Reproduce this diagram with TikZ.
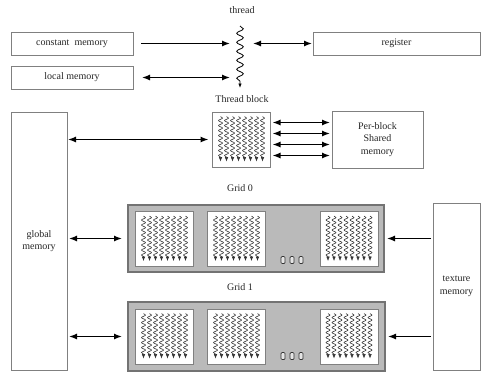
\documentclass[tikz,border=0pt]{standalone}
\usepackage{fontspec}
\setmainfont{Liberation Serif}
\usetikzlibrary{decorations.pathmorphing,arrows.meta}
\begin{document}
\begin{tikzpicture}[x=1pt,y=-1pt,
  font=\fontsize{10}{12.5}\selectfont,
  membox/.style={draw=black!50, line width=0.9pt, fill=white, inner sep=0pt, outer sep=0pt, align=center, text=black!85},
  gridbox/.style={draw=black!55, line width=1.4pt, fill=black!27, inner sep=0pt, outer sep=0pt},
  blkbox/.style={draw=black!50, line width=1pt, fill=white, inner sep=0pt, outer sep=0pt, minimum width=58pt, minimum height=55pt},
  dotbox/.style={draw=black!80, line width=0.7pt, fill=black!10, rounded corners=1pt, inner sep=0pt, minimum width=4pt, minimum height=7pt},
  lbl/.style={text=black!85},
  arr/.style={-{Latex[length=8pt,width=6pt]}, line width=1.3pt},
  darr/.style={{Latex[length=8pt,width=6pt]}-{Latex[length=8pt,width=6pt]}, line width=1.3pt},
  bigwave/.style={decorate, decoration={snake, segment length=9pt, amplitude=3.3pt, post length=5pt}, line width=0.8pt, -{Latex[length=4.5pt,width=3.5pt]}},
  swave/.style={decorate, decoration={snake, segment length=5pt, amplitude=2pt, post length=4pt}, line width=0.6pt, black!80, -{Latex[length=4.5pt,width=3.6pt]}},
  tblock/.pic={
    \node[blkbox] (-box) at (0,0) {};
    \foreach \i in {0,...,7} \draw[swave] (-21+6*\i,-23) -- (-21+6*\i,22);
  }
]
\useasboundingbox[fill=white] (0,0) rectangle (481,375);

% thread
\node[lbl] (thrlbl) at (242,10) {thread};
\node[inner sep=0pt, outer sep=0pt, minimum width=14pt, minimum height=62pt] (thr) at (240,57) {};
\draw[bigwave] (thr.north) -- (thr.south);

\node[membox, minimum width=122pt, minimum height=23pt] (const) at (72,43.5) {constant\ \ memory};
\node[membox, minimum width=122pt, minimum height=23pt] (local) at (72,77.5) {local memory};
\node[membox, minimum width=167pt, minimum height=23pt] (reg) at (396.5,43.5) {register};

\draw[arr, shorten <=8pt, shorten >=3pt] (const.east) -- (const.east -| thr.west);
\draw[darr, shorten <=9pt, shorten >=3pt] (local.east) -- (local.east -| thr.west);
\draw[darr, shorten <=6pt, shorten >=1pt] (thr.east |- reg.west) -- (reg.west);

% thread block
\node[lbl] (tblbl) at (242,99) {Thread block};
\pic (tb) at (241.5,139.5) {tblock};
\node[membox, minimum width=91pt, minimum height=57pt] (shared) at (377.5,139.5) {Per-block\\Shared\\memory};
\foreach \dy in {17,6,-5,-16}
  \draw[darr, shorten <=2pt, shorten >=2pt] ([yshift=\dy pt]tb-box.east) -- ([yshift=\dy pt]tb-box.east -| shared.west);

% global memory
\node[membox, minimum width=56pt, minimum height=258pt] (global) at (39,241) {global\\memory};
\draw[darr, shorten <=1pt, shorten >=4pt] (global.east |- tb-box.west) -- (tb-box.west);

% texture memory
\node[membox, minimum width=47pt, minimum height=167pt] (tex) at (456.5,286.5) {texture\\memory};

% grid 0
\node[lbl] (g0lbl) at (240,188) {Grid 0};
\node[gridbox, minimum width=256pt, minimum height=67pt] (g0) at (256,238.5) {};
\pic (g0a) at (164.5,239) {tblock};
\pic (g0b) at (236.5,239) {tblock};
\pic (g0c) at (349,239) {tblock};
\node[dotbox] (g0d1) at (283,260) {};
\node[dotbox] (g0d2) at (292,260) {};
\node[dotbox] (g0d3) at (301,260) {};

% grid 1
\node[lbl] (g1lbl) at (240,287) {Grid 1};
\node[gridbox, minimum width=257pt, minimum height=69pt] (g1) at (256.5,336.5) {};
\pic (g1a) at (164.5,336.5) {tblock};
\pic (g1b) at (236.5,336.5) {tblock};
\pic (g1c) at (349,336.5) {tblock};
\node[dotbox] (g1d1) at (283,356) {};
\node[dotbox] (g1d2) at (292,356) {};
\node[dotbox] (g1d3) at (301,356) {};

% connectors
\draw[darr, shorten <=2pt, shorten >=6pt] (global.east |- g0.west) -- (g0.west);
\draw[darr, shorten <=2pt, shorten >=6pt] (global.east |- g1.west) -- (g1.west);
\draw[arr, shorten <=2pt, shorten >=3pt] (tex.west |- g0.east) -- (g0.east);
\draw[arr, shorten <=2pt, shorten >=3pt] (tex.west |- g1.east) -- (g1.east);
\end{tikzpicture}
\end{document}
